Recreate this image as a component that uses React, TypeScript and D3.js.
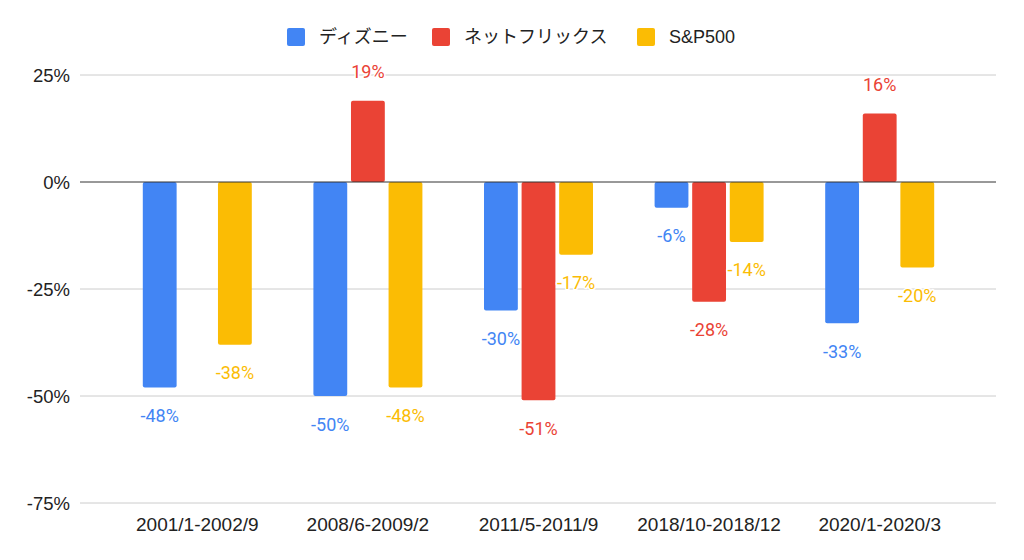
import React from "react";
import * as d3 from "d3";

const categories = ["2001/1-2002/9", "2008/6-2009/2", "2011/5-2011/9", "2018/10-2018/12", "2020/1-2020/3"];
const seriesNames = ["ディズニー", "ネットフリックス", "S&P500"];
const disney = [-48, -50, -30, -6, -33];
const netflix: (number | null)[] = [null, 19, -51, -28, 16];
const sp500 = [-38, -48, -17, -14, -20];
const yTicks = [-75, -50, -25, 0, 25];
const colors = ["#4285F4", "#EA4335", "#FBBC04"];

const W = 1024;
const H = 560;
const FONT = '"Liberation Sans", Arial, "Noto Sans CJK JP", sans-serif';
const LABEL_FONT = 'Roboto, "Liberation Sans", Arial, sans-serif';

export default function App() {
  const values = [disney, netflix, sp500];
  const x = d3.scaleBand<string>().domain(categories).range([112, 965]).padding(0);
  const xs = d3.scaleBand<string>().domain(seriesNames).range([-54.5, 54.5]).paddingInner(0.1).paddingOuter(0);
  const y = d3.scaleLinear().domain([-75, 25]).range([503, 75]);

  const legendX = [287, 432, 637];

  return (
    <svg width={W} height={H} style={{ position: "absolute", left: 0, top: 0, background: "#fff" }} fontFamily={FONT}>
      <rect x={0} y={0} width={W} height={H} fill="#fff" />
      {/* legend */}
      {seriesNames.map((s, i) => (
        <g key={s}>
          <rect x={legendX[i]} y={28} width={18} height={18} rx={2} fill={colors[i]} />
          <text x={legendX[i] + 32} y={37} dominantBaseline="central" fontSize={18} fill="#222">{s}</text>
        </g>
      ))}
      {/* grid */}
      {yTicks.map((t) => (
        <g key={t}>
          {t !== 0 && <line x1={80} x2={996} y1={y(t)} y2={y(t)} stroke="#ccc" strokeWidth={1} />}
          <text x={70} y={y(t)} textAnchor="end" dominantBaseline="central" fontSize={18.5} fill="#222">{t}%</text>
        </g>
      ))}
      {/* bars */}
      {categories.map((c, ci) => {
        const cx = (x(c) as number) + x.bandwidth() / 2;
        return seriesNames.map((s, si) => {
          const v = values[si][ci];
          if (v === null || v === undefined) return null;
          const bx = cx + (xs(s) as number);
          const bw = xs.bandwidth();
          const y0 = y(0);
          const y1 = y(v);
          return (
            <rect key={c + s} x={bx} y={Math.min(y0, y1)} width={bw} height={Math.abs(y1 - y0)} rx={2} fill={colors[si]} />
          );
        });
      })}
      <line x1={80} x2={996} y1={y(0)} y2={y(0)} stroke="#333" strokeWidth={1} />
      {/* data labels */}
      {categories.map((c, ci) => {
        const cx = (x(c) as number) + x.bandwidth() / 2;
        return seriesNames.map((s, si) => {
          const v = values[si][ci];
          if (v === null || v === undefined) return null;
          const lx = cx + (xs(s) as number) + xs.bandwidth() / 2;
          const ly = v >= 0 ? y(v) - 29 : y(v) + 28;
          return (
            <text key={"l" + c + s} x={lx} y={ly} textAnchor="middle" dominantBaseline="central" fontSize={18}
              fontFamily={LABEL_FONT}
              fill={colors[si]} stroke="#fff" strokeWidth={3} paintOrder="stroke" strokeLinejoin="round">
              {v}%
            </text>
          );
        });
      })}
      {/* x labels */}
      {categories.map((c) => (
        <text key={"x" + c} x={(x(c) as number) + x.bandwidth() / 2} y={524} textAnchor="middle" dominantBaseline="central" fontSize={19} fill="#222">
          {c}
        </text>
      ))}
    </svg>
  );
}
